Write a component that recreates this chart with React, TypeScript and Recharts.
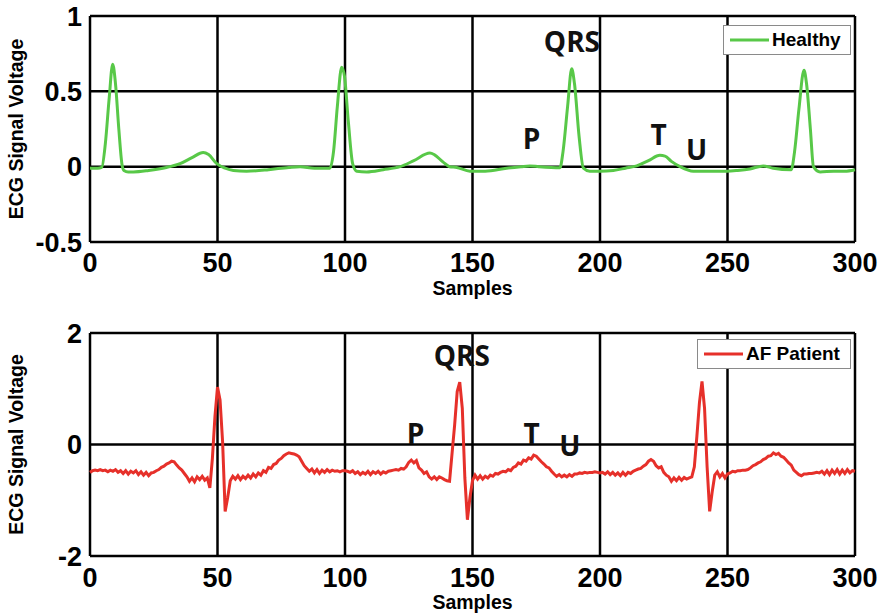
import React from 'react'
import {
  LineChart, Line, XAxis, YAxis, CartesianGrid, Legend, ReferenceDot
} from 'recharts'

// Healthy ECG (sample, voltage) read at the visible vertices
const healthyPts: [number, number][] = [
  [0, -0.01], [3, -0.01], [4.6, -0.005], [6, 0.15], [7.5, 0.45], [8.9, 0.68], [10, 0.55],
  [11.3, 0.25], [12.5, 0.02], [13.3, -0.025], [15, -0.035], [17, -0.035], [23, -0.025],
  [30, -0.005], [35.3, 0.02], [40, 0.06], [44.4, 0.094], [46.5, 0.08], [49.7, 0.02],
  [53, -0.01], [56.2, -0.025], [61.4, -0.03], [70, -0.02], [78, -0.005], [82.4, 0.0],
  [88, -0.01], [94.1, -0.01], [95.5, 0.1], [97, 0.4], [98.7, 0.66], [99.8, 0.6],
  [101.3, 0.3], [103, 0.02], [104.6, -0.03], [108.5, -0.035], [115, -0.02], [121.6, 0.0],
  [127, 0.04], [133.3, 0.09], [135, 0.08], [138.5, 0.03], [141, 0.0], [143.8, -0.005],
  [149, -0.03], [155, -0.03], [163.4, -0.01], [169, 0.0], [172.5, 0.005], [176, 0.0],
  [184.3, -0.007], [185.5, 0.1], [187.3, 0.4], [188.9, 0.65], [190, 0.55], [191.8, 0.2],
  [193.5, -0.01], [196, -0.03], [200, -0.03], [205.2, -0.025], [210, -0.01], [214.4, 0.005],
  [219, 0.04], [223.5, 0.075], [225.5, 0.07], [228, 0.035], [231.4, 0.0], [236.6, -0.03],
  [243, -0.03], [249.7, -0.03], [254, -0.025], [258.8, -0.015], [264, 0.005], [267.9, -0.01],
  [275, -0.02], [276.3, 0.1], [278, 0.38], [280, 0.64], [281, 0.55], [282.5, 0.25],
  [283.7, 0.0], [286.3, -0.035], [291.6, -0.03], [296, -0.03], [300, -0.02],
]

// AF patient ECG, one value per sample 0..300
const afVoltage: number[] = [
  -0.50, -0.47, -0.46, -0.47, -0.45, -0.47, -0.46, -0.49, -0.46, -0.48,
  -0.45, -0.50, -0.47, -0.52, -0.47, -0.53, -0.48, -0.51, -0.47, -0.54,
  -0.49, -0.55, -0.50, -0.56, -0.51, -0.50, -0.47, -0.45, -0.41, -0.39,
  -0.35, -0.33, -0.30, -0.31, -0.37, -0.42, -0.46, -0.52, -0.58, -0.66,
  -0.60, -0.67, -0.58, -0.63, -0.57, -0.64, -0.60, -0.78, -0.25, 0.50,
  1.03, 0.80, 0.05, -1.20, -0.95, -0.65, -0.57, -0.62, -0.56, -0.63,
  -0.57, -0.61, -0.55, -0.60, -0.53, -0.58, -0.51, -0.55, -0.47, -0.50,
  -0.41, -0.43, -0.36, -0.34, -0.28, -0.25, -0.20, -0.17, -0.15, -0.16,
  -0.17, -0.19, -0.22, -0.30, -0.38, -0.43, -0.48, -0.44, -0.51, -0.45,
  -0.52, -0.46, -0.50, -0.45, -0.49, -0.46, -0.48, -0.47, -0.49, -0.47,
  -0.47, -0.48, -0.50, -0.47, -0.52, -0.49, -0.54, -0.50, -0.53, -0.48,
  -0.54, -0.49, -0.52, -0.48, -0.53, -0.49, -0.51, -0.48, -0.47, -0.46,
  -0.45, -0.46, -0.43, -0.44, -0.40, -0.32, -0.28, -0.33, -0.29, -0.42,
  -0.46, -0.52, -0.49, -0.58, -0.62, -0.58, -0.63, -0.58, -0.60, -0.63,
  -0.65, -0.66, -0.15, 0.35, 0.95, 1.12, 0.65, -0.60, -1.35, -0.95,
  -0.65, -0.55, -0.62, -0.56, -0.62, -0.57, -0.60, -0.55, -0.57, -0.52,
  -0.53, -0.50, -0.48, -0.49, -0.45, -0.47, -0.41, -0.39, -0.33, -0.35,
  -0.28, -0.30, -0.24, -0.26, -0.19, -0.21, -0.26, -0.31, -0.35, -0.40,
  -0.42, -0.48, -0.53, -0.57, -0.54, -0.58, -0.55, -0.58, -0.54, -0.57,
  -0.53, -0.53, -0.51, -0.52, -0.50, -0.51, -0.50, -0.50, -0.49, -0.50,
  -0.51, -0.50, -0.53, -0.49, -0.54, -0.50, -0.55, -0.51, -0.56, -0.50,
  -0.55, -0.50, -0.52, -0.48, -0.46, -0.44, -0.43, -0.39, -0.36, -0.30,
  -0.27, -0.30, -0.38, -0.42, -0.40, -0.50, -0.55, -0.58, -0.66, -0.60,
  -0.65, -0.59, -0.64, -0.59, -0.62, -0.60, -0.58, -0.40, 0.15, 0.75,
  1.13, 0.65, -0.40, -1.20, -0.85, -0.55, -0.49, -0.58, -0.52, -0.60,
  -0.53, -0.51, -0.48, -0.49, -0.47, -0.47, -0.46, -0.46, -0.45, -0.42,
  -0.38, -0.36, -0.33, -0.31, -0.27, -0.25, -0.21, -0.20, -0.15, -0.18,
  -0.16, -0.21, -0.23, -0.28, -0.33, -0.37, -0.46, -0.50, -0.54, -0.56,
  -0.53, -0.53, -0.52, -0.52, -0.51, -0.50, -0.51, -0.48, -0.53, -0.47,
  -0.54, -0.46, -0.52, -0.45, -0.53, -0.46, -0.52, -0.45, -0.51, -0.47,
  -0.48,
]

const xTicks = [0, 50, 100, 150, 200, 250, 300]
const topYTicks = [-0.5, 0, 0.5, 1]
const bottomYTicks = [-2, 0, 2]

// wave annotations: [label, sample, voltage]
const topNotes: [string, number, number][] = [
  ['QRS', 189, 0.83], ['P', 173.2, 0.185], ['T', 223, 0.21], ['U', 237.9, 0.11],
]
const bottomNotes: [string, number, number][] = [
  ['QRS', 145.8, 1.58], ['P', 127.7, 0.18], ['T', 173.2, 0.19], ['U', 188.2, -0.02],
]

const GREEN = '#58c848'
const RED = '#e6302a'
const AXIS_FONT = '"Liberation Sans", Arial, sans-serif'
const NOTE_FONT = '"Open Sans", "Noto Sans", sans-serif'

const healthyData = healthyPts.map(([x, v]) => ({ x, v }))
const afData = afVoltage.map((v, i) => ({ x: i, v }))

const tickStyle = { fontSize: 27, fontWeight: 700, fill: '#000', fontFamily: AXIS_FONT }

const XTitle = (props: any) => {
  const vb = props.viewBox || { x: 90, y: 242, width: 765 }
  return (
    <text x={vb.x + vb.width / 2} y={vb.y + 53} textAnchor="middle"
      fontFamily={AXIS_FONT} fontWeight={700} fontSize={19.5} fill="#000">Samples</text>
  )
}

const YTitle = (props: any) => {
  const vb = props.viewBox || { x: 30, y: 16, height: 226 }
  const cx = 16
  const cy = vb.y + vb.height / 2
  return (
    <text x={cx} y={cy} textAnchor="middle" dominantBaseline="central"
      transform={`rotate(-90, ${cx}, ${cy})`}
      fontFamily={AXIS_FONT} fontWeight={700} fontSize={19.5} fill="#000">ECG Signal Voltage</text>
  )
}

const LegendBox = ({ label, color, w }: { label: string; color: string; w: number }) => (
  <div style={{
    width: w, boxSizing: 'border-box', border: '1px solid #8a8a8a', background: '#fff',
    display: 'flex', alignItems: 'center', padding: '3px 4px 3px 6px',
    fontFamily: AXIS_FONT, fontWeight: 700, fontSize: 19, color: '#000', lineHeight: '22px',
  }}>
    <svg width={39} height={6} style={{ marginRight: 3 }}>
      <line x1={0} y1={3} x2={39} y2={3} stroke={color} strokeWidth={3} />
    </svg>
    <span>{label}</span>
  </div>
)

const note = (n: [string, number, number]) => (
  <ReferenceDot key={n[0]} x={n[1]} y={n[2]} r={0} ifOverflow="visible"
    label={{ value: n[0], position: 'center', fontSize: 28, fontWeight: 700, fill: '#111', fontFamily: NOTE_FONT }} />
)

export default function App() {
  return (
    <div style={{ position: 'absolute', left: 0, top: 0, width: 885, height: 615, background: '#fff' }}>
      <div style={{ position: 'absolute', left: 0, top: 0 }}>
        <LineChart width={885} height={300} data={healthyData}
          margin={{ top: 16, right: 30, left: 30, bottom: 0 }}>
          <CartesianGrid stroke="#000" strokeWidth={2.5} />
          <XAxis dataKey="x" type="number" domain={[0, 300]} ticks={xTicks} height={58}
            axisLine={false} tickLine={false} tickMargin={5} tick={tickStyle}
            label={<XTitle />} />
          <YAxis type="number" domain={[-0.5, 1]} ticks={topYTicks} width={60}
            axisLine={false} tickLine={false} tick={tickStyle} label={<YTitle />} />
          {topNotes.map(note)}
          <Line dataKey="v" name="Healthy" type="monotone" stroke={GREEN} strokeWidth={3}
            dot={false} isAnimationActive={false} />
          <Legend layout="vertical" align="center" verticalAlign="middle"
            wrapperStyle={{ left: 723, top: 25, width: 128 }}
            content={() => <LegendBox label="Healthy" color={GREEN} w={128} />} />
        </LineChart>
      </div>
      <div style={{ position: 'absolute', left: 0, top: 310 }}>
        <LineChart width={885} height={305} data={afData}
          margin={{ top: 23, right: 30, left: 30, bottom: 0 }}>
          <CartesianGrid stroke="#000" strokeWidth={2.5} />
          <XAxis dataKey="x" type="number" domain={[0, 300]} ticks={xTicks} height={59}
            axisLine={false} tickLine={false} tickMargin={6} tick={tickStyle}
            label={<XTitle />} />
          <YAxis type="number" domain={[-2, 2]} ticks={bottomYTicks} width={60}
            axisLine={false} tickLine={false} tick={tickStyle} label={<YTitle />} />
          {bottomNotes.map(note)}
          <Line dataKey="v" name="AF Patient" type="linear" stroke={RED} strokeWidth={3}
            dot={false} isAnimationActive={false} />
          <Legend layout="vertical" align="center" verticalAlign="middle"
            wrapperStyle={{ left: 697, top: 29, width: 154 }}
            content={() => <LegendBox label="AF Patient" color={RED} w={154} />} />
        </LineChart>
      </div>
    </div>
  )
}
